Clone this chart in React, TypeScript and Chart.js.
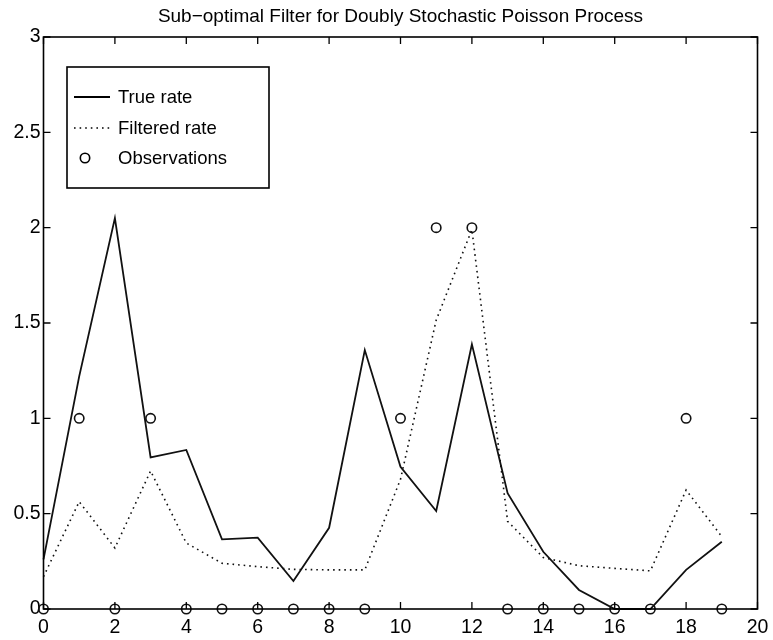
import React, { useEffect, useRef } from "react";
import { Chart, registerables } from "chart.js";

Chart.register(...registerables);

const titleText = "Sub\u2212optimal Filter for Doubly Stochastic Poisson Process";
const timeSteps = [0, 1, 2, 3, 4, 5, 6, 7, 8, 9, 10, 11, 12, 13, 14, 15, 16, 17, 18, 19];
const trueRate = [0.26, 1.22, 2.05, 0.795, 0.834, 0.365, 0.374, 0.147, 0.426, 1.358, 0.746, 0.514, 1.388, 0.607, 0.3, 0.1, 0, 0, 0.205, 0.353];
const filteredRate = [0.17, 0.563, 0.32, 0.724, 0.346, 0.24, 0.222, 0.208, 0.205, 0.205, 0.68, 1.515, 1.99, 0.46, 0.27, 0.227, 0.213, 0.2, 0.624, 0.38];
const observations = [0, 1, 0, 1, 0, 0, 0, 0, 0, 0, 1, 2, 2, 0, 0, 0, 0, 0, 1, 0];
const xTicks = [0, 2, 4, 6, 8, 10, 12, 14, 16, 18, 20];
const yTicks = [0, 0.5, 1, 1.5, 2, 2.5, 3];
const legendLabels = ["True rate", "Filtered rate", "Observations"];

const FONT = "'Liberation Sans', Arial, Helvetica, sans-serif";

const framePlugin = {
  id: "matlabFrame",
  afterDatasetsDraw(chart: any) {
    const { ctx, chartArea: a, scales } = chart;
    ctx.save();
    ctx.strokeStyle = "#000";
    ctx.lineWidth = 1.6;
    ctx.strokeRect(a.left, a.top, a.right - a.left, a.bottom - a.top);
    const tl = 7;
    ctx.lineWidth = 1.3;
    ctx.beginPath();
    xTicks.forEach((v) => {
      const px = scales.x.getPixelForValue(v);
      ctx.moveTo(px, a.bottom);
      ctx.lineTo(px, a.bottom - tl);
      ctx.moveTo(px, a.top);
      ctx.lineTo(px, a.top + tl);
    });
    yTicks.forEach((v) => {
      const py = scales.y.getPixelForValue(v);
      ctx.moveTo(a.left, py);
      ctx.lineTo(a.left + tl, py);
      ctx.moveTo(a.right, py);
      ctx.lineTo(a.right - tl, py);
    });
    ctx.stroke();

    // legend box
    const bx = a.left + 23.5;
    const by = a.top + 30;
    const bw = 202;
    const bh = 121;
    ctx.fillStyle = "#fff";
    ctx.fillRect(bx, by, bw, bh);
    ctx.lineWidth = 1.6;
    ctx.strokeStyle = "#000";
    ctx.strokeRect(bx, by, bw, bh);

    const rows = [30, 61, 91];
    ctx.font = `18.5px ${FONT}`;
    ctx.fillStyle = "#000";
    ctx.textBaseline = "middle";
    ctx.textAlign = "left";
    legendLabels.forEach((label, i) => {
      const y = by + rows[i];
      ctx.fillText(label, bx + 51, y + 1);
    });
    // sample: solid
    ctx.lineWidth = 1.8;
    ctx.setLineDash([]);
    ctx.beginPath();
    ctx.moveTo(bx + 7, by + rows[0]);
    ctx.lineTo(bx + 43, by + rows[0]);
    ctx.stroke();
    // sample: dotted
    ctx.lineWidth = 1.6;
    ctx.setLineDash([1.6, 4]);
    ctx.beginPath();
    ctx.moveTo(bx + 7, by + rows[1]);
    ctx.lineTo(bx + 43, by + rows[1]);
    ctx.stroke();
    ctx.setLineDash([]);
    // sample: circle
    ctx.lineWidth = 1.6;
    ctx.beginPath();
    ctx.arc(bx + 18, by + rows[2], 4.7, 0, Math.PI * 2);
    ctx.stroke();
    ctx.restore();
  },
};

export default function App() {
  const canvasRef = useRef<HTMLCanvasElement | null>(null);

  useEffect(() => {
    document.body.style.margin = "0";
    const canvas = canvasRef.current;
    if (!canvas) return;
    const chart = new Chart(canvas, {
      type: "line",
      data: {
        datasets: [
          {
            label: legendLabels[0],
            data: timeSteps.map((t, i) => ({ x: t, y: trueRate[i] })),
            borderColor: "#111",
            borderWidth: 1.8,
            pointRadius: 0,
            tension: 0,
            fill: false,
            clip: false as any,
          },
          {
            label: legendLabels[1],
            data: timeSteps.map((t, i) => ({ x: t, y: filteredRate[i] })),
            borderColor: "#111",
            borderWidth: 1.6,
            borderDash: [1.6, 4],
            pointRadius: 0,
            tension: 0,
            fill: false,
            clip: false as any,
          },
          {
            label: legendLabels[2],
            data: timeSteps.map((t, i) => ({ x: t, y: observations[i] })),
            showLine: false,
            borderColor: "#111",
            backgroundColor: "rgba(0,0,0,0)",
            pointStyle: "circle",
            pointRadius: 4.7,
            pointBorderWidth: 1.6,
            clip: false as any,
          },
        ],
      },
      options: {
        responsive: false,
        animation: false,
        layout: { padding: { left: 0, right: 15.5, top: 0, bottom: 0 } },
        plugins: {
          legend: { display: false },
          tooltip: { enabled: false },
          title: {
            display: true,
            text: titleText,
            fullSize: false,
            color: "#000",
            font: { family: FONT, size: 19, weight: "normal" as any, lineHeight: 1.2 },
            padding: { top: 5, bottom: 9.2 },
          },
        },
        scales: {
          x: {
            type: "linear",
            min: 0,
            max: 20,
            afterBuildTicks: (scale: any) => {
              scale.ticks = xTicks.map((v) => ({ value: v }));
            },
            afterFit: (scale: any) => {
              scale.height = 31;
              scale.paddingLeft = 0;
              scale.paddingRight = 0;
            },
            ticks: {
              color: "#000",
              font: { family: FONT, size: 19.5 },
              padding: 7,
              maxRotation: 0,
              autoSkip: false,
              callback: (v: any) => String(v),
            },
            grid: { display: false, drawTicks: false },
            border: { display: false },
          },
          y: {
            type: "linear",
            min: 0,
            max: 3,
            afterBuildTicks: (scale: any) => {
              scale.ticks = yTicks.map((v) => ({ value: v }));
            },
            afterFit: (scale: any) => {
              scale.width = 43.5;
              scale.paddingTop = 0;
              scale.paddingBottom = 0;
            },
            ticks: {
              color: "#000",
              font: { family: FONT, size: 19.5 },
              padding: 3,
              autoSkip: false,
              callback: (v: any) => String(v),
            },
            grid: { display: false, drawTicks: false },
            border: { display: false },
          },
        },
      },
      plugins: [framePlugin],
    });
    return () => chart.destroy();
  }, []);

  return (
    <div style={{ width: 773, height: 640, background: "#fff" }}>
      <canvas ref={canvasRef} width={773} height={640} />
    </div>
  );
}
